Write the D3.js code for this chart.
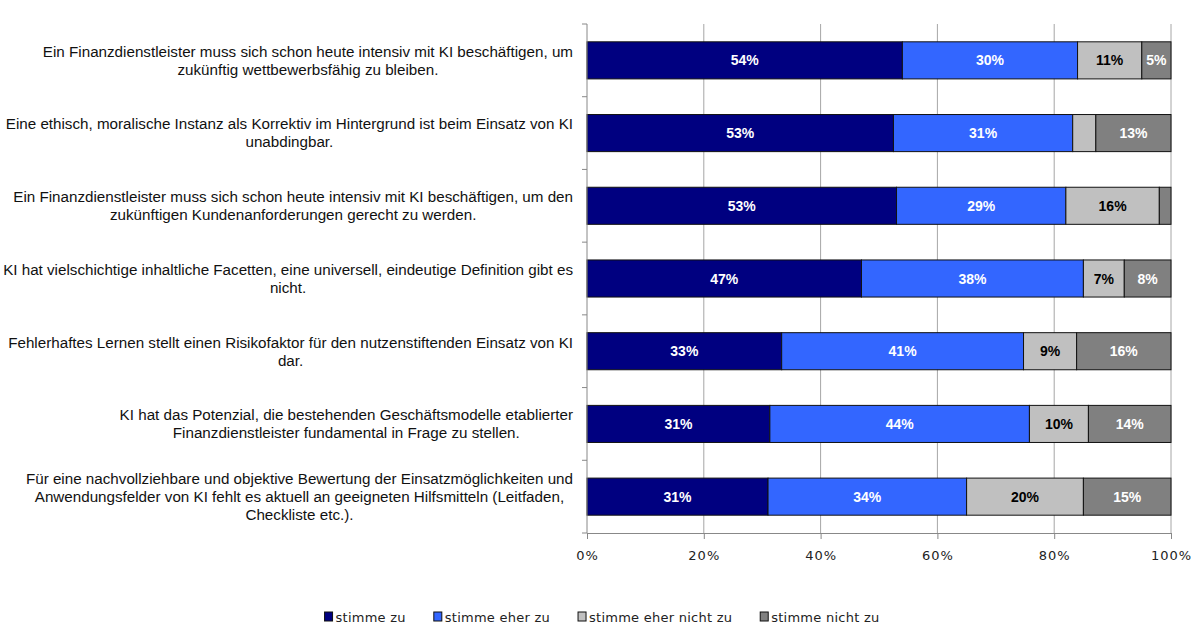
<!DOCTYPE html>
<html>
<head>
<meta charset="utf-8">
<script src="https://cdn.jsdelivr.net/npm/d3@7"></script>
<style>
  body { margin: 0; background: #fff; }
  svg { display: block; }
</style>
</head>
<body>
<svg id="chart"></svg>
<script>
// Aussagen (eine Zeile je Zeilenumbruch im Original)
const statements = [
    ["Ein Finanzdienstleister muss sich schon heute intensiv mit KI beschäftigen, um", "zukünftig wettbewerbsfähig zu bleiben."],
    ["Eine ethisch, moralische Instanz als Korrektiv im Hintergrund ist beim Einsatz von KI", "unabdingbar."],
    ["Ein Finanzdienstleister muss sich schon heute intensiv mit KI beschäftigen, um den", "zukünftigen Kundenanforderungen gerecht zu werden."],
    ["KI hat vielschichtige inhaltliche Facetten, eine universell, eindeutige Definition gibt es", "nicht."],
    ["Fehlerhaftes Lernen stellt einen Risikofaktor für den nutzenstiftenden Einsatz von KI", "dar."],
    ["KI hat das Potenzial, die bestehenden Geschäftsmodelle etablierter", "Finanzdienstleister fundamental in Frage zu stellen."],
    ["Für eine nachvollziehbare und objektive Bewertung der Einsatzmöglichkeiten und", "Anwendungsfelder von KI fehlt es aktuell an geeigneten Hilfsmitteln (Leitfaden,", "Checkliste etc.)."]
];

const seriesNames = ["stimme zu", "stimme eher zu", "stimme eher nicht zu", "stimme nicht zu"];
const seriesColors = ["#000080", "#3366ff", "#c0c0c0", "#808080"];
const labelColors = ["#fff", "#fff", "#000", "#fff"];

// Anteile in Prozent je Aussage (kleine Segmente ohne Beschriftung geschätzt)
const stimmeZu          = [54, 53, 53, 47, 33, 31, 31];
const stimmeEherZu      = [30, 31, 29, 38, 41, 44, 34];
const stimmeEherNichtZu = [11, 4, 16, 7, 9, 10, 20];
const stimmeNichtZu     = [5, 13, 2, 8, 16, 14, 15];

const xTicks = [0, 0.2, 0.4, 0.6, 0.8, 1];

const width = 1200, height = 641;
const svg = d3.select("#chart").attr("width", width).attr("height", height);

const margin = { left: 587, right: 29, top: 24, bottom: 108 };
const x = d3.scaleLinear().domain([0, 1]).range([margin.left, width - margin.right]);
const y = d3.scaleBand()
    .domain(d3.range(statements.length))
    .range([margin.top, height - margin.bottom])
    .paddingInner(0.49)
    .paddingOuter(0.245);

const rows = statements.map((s, i) => ({
    i: i,
    s0: stimmeZu[i], s1: stimmeEherZu[i], s2: stimmeEherNichtZu[i], s3: stimmeNichtZu[i]
}));
const keys = ["s0", "s1", "s2", "s3"];
const stacked = d3.stack().keys(keys).offset(d3.stackOffsetExpand)(rows);

// Gitternetzlinien
svg.append("g")
    .selectAll("line")
    .data(xTicks.slice(1))
    .join("line")
    .attr("x1", d => x(d)).attr("x2", d => x(d))
    .attr("y1", margin.top).attr("y2", height - margin.bottom)
    .attr("stroke", "#a6a6a6")
    .attr("stroke-width", 1);

// Balken
const layer = svg.append("g")
    .selectAll("g")
    .data(stacked)
    .join("g")
    .attr("fill", (d, k) => seriesColors[k]);

layer.selectAll("rect")
    .data(d => d)
    .join("rect")
    .attr("x", d => x(d[0]))
    .attr("width", d => x(d[1]) - x(d[0]))
    .attr("y", d => y(d.data.i))
    .attr("height", y.bandwidth())
    .attr("stroke", "#111")
    .attr("stroke-width", 1);

// Datenbeschriftungen
stacked.forEach((ser, k) => {
    svg.append("g")
        .selectAll("text")
        .data(ser.filter(d => d.data[ser.key] >= 5))
        .join("text")
        .attr("x", d => (x(d[0]) + x(d[1])) / 2)
        .attr("y", d => y(d.data.i) + y.bandwidth() / 2)
        .attr("dy", "0.36em")
        .attr("text-anchor", "middle")
        .attr("font-family", "'Liberation Sans', Arial, sans-serif")
        .attr("font-weight", "bold")
        .attr("font-size", 14)
        .attr("fill", labelColors[k])
        .text(d => d.data[ser.key] + "%");
});

// Y-Achse mit Teilstrichen an den Kategoriegrenzen
const yAxis = svg.append("g");
yAxis.append("line")
    .attr("x1", margin.left).attr("x2", margin.left)
    .attr("y1", margin.top).attr("y2", height - margin.bottom)
    .attr("stroke", "#888");
const step = y.step();
yAxis.selectAll(".ytick")
    .data(d3.range(statements.length + 1))
    .join("line")
    .attr("class", "ytick")
    .attr("x1", margin.left - 5).attr("x2", margin.left)
    .attr("y1", d => margin.top + d * step)
    .attr("y2", d => margin.top + d * step)
    .attr("stroke", "#888");

// X-Achse
const xAxis = svg.append("g")
    .attr("transform", `translate(0,${height - margin.bottom})`)
    .call(d3.axisBottom(x).tickValues(xTicks).tickFormat(d3.format(".0%")).tickSizeOuter(0).tickSize(6));
xAxis.select(".domain").attr("stroke", "#888");
xAxis.selectAll(".tick line").attr("stroke", "#888");
xAxis.selectAll(".tick text")
    .attr("font-family", "'DejaVu Sans', Verdana, sans-serif")
    .attr("font-size", 13)
    .attr("letter-spacing", 1)
    .attr("fill", "#222")
    .attr("dy", "1.4em");

// Kategorienbeschriftungen: zentrierter Block, rechtsbündig zur Achse
const labelRight = 573;
const lineH = 18;
statements.forEach((lines, i) => {
    const g = svg.append("g");
    const cy = y(i) + y.bandwidth() / 2;
    const texts = g.selectAll("text")
        .data(lines)
        .join("text")
        .attr("y", (d, j) => cy + (j - (lines.length - 1) / 2) * lineH)
        .attr("dy", "0.35em")
        .attr("text-anchor", "middle")
        .attr("font-family", "'Liberation Sans', Arial, sans-serif")
        .attr("font-size", 15.2)
        .attr("fill", "#111")
        .text(d => d);
    let maxW = 0;
    texts.each(function () { maxW = Math.max(maxW, this.getComputedTextLength()); });
    texts.attr("x", labelRight - maxW / 2);
});

// Legende
const legend = svg.append("g");
const items = legend.selectAll("g")
    .data(seriesNames)
    .join("g");
items.append("rect")
    .attr("width", 8).attr("height", 9)
    .attr("y", 612)
    .attr("fill", (d, k) => seriesColors[k])
    .attr("stroke", "#111");
items.append("text")
    .attr("x", 11)
    .attr("y", 617)
    .attr("dy", "0.35em")
    .attr("font-family", "'DejaVu Sans', Verdana, sans-serif")
    .attr("font-size", 13)
    .attr("letter-spacing", 0.25)
    .attr("fill", "#222")
    .text(d => d);
let lx = 0;
const widths = [];
items.each(function () {
    const w = 11 + d3.select(this).select("text").node().getComputedTextLength();
    widths.push(w);
});
const gap = 28;
const total = d3.sum(widths) + gap * (widths.length - 1);
lx = 602 - total / 2;
items.attr("transform", (d, k) => {
    const t = `translate(${lx},0)`;
    lx += widths[k] + gap;
    return t;
});
</script>
</body>
</html>
